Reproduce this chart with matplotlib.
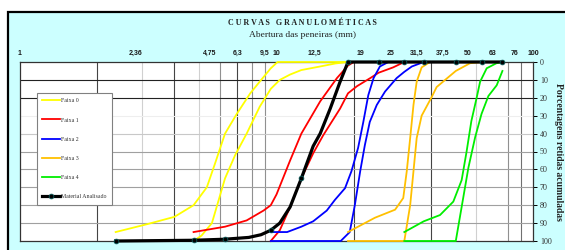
import matplotlib
matplotlib.use("Agg")
import matplotlib.pyplot as plt
from matplotlib.patches import Rectangle
from matplotlib.transforms import blended_transform_factory

# sieve openings shown on the top of the chart (mm)
sieve_labels = ["1", "2,36", "4,75", "6,3", "9,5", "10", "12,5", "19", "25", "31,5", "37,5", "50", "63", "76", "100"]
label_pos = [1, 2.81, 5.5, 7.07, 9.02, 10.0, 14.1, 21.2, 27.9, 35.3, 44.6, 55.8, 69.8, 85, 100]

# limit curves (% retained)
f0a_x = [2.36, 3.15, 4.0, 4.75, 5.35, 5.75, 6.3, 7.0, 7.9, 8.6, 9.5, 10.1, 12.5, 19, 25]
f0a_y = [95, 90.5, 86.5, 80, 70, 57, 40, 29, 17.5, 11, 3.5, 0, 0, 0, 0]
f0b_x = [4.75, 5.1, 5.6, 6.3, 6.9, 7.65, 8.6, 9.5, 10.3, 11.3, 12.5, 14.8, 17, 19, 25]
f0b_y = [100, 97, 90, 65, 52, 40, 25, 15, 10, 7, 4.5, 2.5, 0.8, 0, 0]

f1a_x = [4.75, 6.3, 7.65, 8.9, 9.5, 10.0, 11.3, 12.5, 14.8, 17.2, 19, 20, 25]
f1a_y = [95, 92, 88.5, 83, 80, 74, 55, 40, 22, 9, 2, 0, 0]
f1b_x = [9.5, 10.3, 11.3, 12.5, 13.9, 15.2, 17.7, 19, 20.6, 23.2, 25, 28.5, 31.5]
f1b_y = [100, 94, 81, 65, 51, 41, 26, 17.5, 13.5, 9, 6, 3, 0]

f2a_x = [9.5, 11.0, 12.5, 13.9, 15.7, 16.9, 18.5, 19.6, 20.8, 21.8, 22.8, 23.9, 25.3, 27.3, 31.5]
f2a_y = [95, 95, 92, 89, 83, 77, 70.5, 61, 48, 33.5, 18.5, 9, 2.5, 0, 0]
f2b_x = [9.5, 12.5, 17.8, 19.3, 20.2, 21.2, 22.1, 23.1, 24.6, 26.5, 29.4, 31.5, 33.7, 37.5]
f2b_y = [100, 100, 100, 95, 80, 61, 46.5, 33.5, 24, 16.5, 9, 5.5, 2.5, 0]

f3a_x = [19, 24.2, 29.0, 31.2, 32.2, 33.2, 34.2, 35.2, 36.8, 39.7, 50]
f3a_y = [95, 87, 82.5, 76, 61, 42.5, 24, 11, 3, 0, 0]
f3b_x = [19, 25, 31.5, 33.2, 34.2, 35.2, 36.8, 40.3, 42.1, 50, 56.8, 63]
f3b_y = [100, 100, 100, 80, 61, 42.5, 30, 19.5, 14, 5, 0.7, 0]

f4a_x = [31.5, 37.5, 43.4, 48.9, 52.7, 55.1, 57.5, 60.3, 62.2, 66, 72, 76]
f4a_y = [95, 89, 85.5, 78, 66, 50, 33, 20, 11, 3.5, 0.7, 0]
f4b_x = [31.5, 37.5, 50, 52.7, 56, 59.5, 63, 67, 72.2, 76]
f4b_y = [100, 100, 100, 81, 59, 42, 29, 19, 13, 5]

mat_x = [2.36, 4.75, 6.3, 7.8, 8.7, 9.5, 10.3, 11.3, 12.5, 13.9, 14.8, 16.2, 17.7, 19, 25, 31.5, 37.5, 50, 63, 76]
mat_y = [100, 99.6, 99, 98, 96.5, 94, 90, 81, 65, 47, 40, 26, 11, 0, 0, 0, 0, 0, 0, 0]
mat_marks = [0, 1, 2, 5, 8, 13, 14, 15, 16, 17, 18, 19]

series = [
    ("Faixa 0", "#FFFF00", f0a_x, f0a_y, f0b_x, f0b_y),
    ("Faixa 1", "#FF0000", f1a_x, f1a_y, f1b_x, f1b_y),
    ("Faixa 2", "#0000FF", f2a_x, f2a_y, f2b_x, f2b_y),
    ("Faixa 3", "#FFC000", f3a_x, f3a_y, f3b_x, f3b_y),
    ("Faixa 4", "#00EE00", f4a_x, f4a_y, f4b_x, f4b_y),
]

serif = ["Liberation Serif", "DejaVu Serif"]

fig = plt.figure(figsize=(5.65, 2.5), dpi=100, facecolor="white")
# cyan panel with black frame
fig.add_artist(Rectangle((7.5 / 565, -0.1), 1.0, 1 - 11.5 / 250 + 0.1, transform=fig.transFigure,
                         facecolor="#CCFFFF", edgecolor="black", lw=1.6, zorder=0))

ax = fig.add_axes([20 / 565, 1 - 241 / 250, 513 / 565, 179 / 250])
ax.set_facecolor("white")
ax.set_xscale("log")
ax.set_xlim(1, 100)
ax.set_ylim(100, 0)

# grid
vgrid = [2, 3, 4, 5, 6, 7, 8, 9, 20, 40, 60, 80, 90]
vcol = ["#444444", "#d0d0d0", "#444444", "#d0d0d0", "#909090", "#444444", "#909090", "#909090",
        "#444444", "#444444", "#d0d0d0", "#909090", "#707070"]
for v, c in zip(vgrid, vcol):
    ax.axvline(v, color=c, lw=0.8, zorder=1)
hgrid = [10, 20, 30, 40, 50, 60, 70, 80, 90]
hcol = ["#222222", "#222222", "#eeeeee", "#c8c8c8", "#a0a0a0", "#a0a0a0", "#a0a0a0", "#a0a0a0", "#a0a0a0"]
for h, c in zip(hgrid, hcol):
    ax.axhline(h, color=c, lw=0.8, zorder=1)

for name, col, xa, ya, xb, yb in series:
    ax.plot(xa, ya, color=col, lw=1.3, label=name, clip_on=False, zorder=3)
    ax.plot(xb, yb, color=col, lw=1.3, clip_on=False, zorder=3)

ax.plot(mat_x, mat_y, color="black", lw=2.3, marker="o", ms=3.4, mfc="black", mec="#0b5a5a",
        mew=0.6, markevery=mat_marks, label="Material Analisado", clip_on=False, zorder=4)

for s in ax.spines.values():
    s.set_color("#333333")
    s.set_linewidth(0.9)

ax.xaxis.set_major_locator(plt.NullLocator())
ax.xaxis.set_minor_locator(plt.NullLocator())
ax.yaxis.tick_right()
ax.set_yticks(range(0, 101, 10))
ax.tick_params(axis="y", direction="out", length=3, width=0.7, pad=2, labelsize=5.8, labelcolor="#333333")
for t in ax.get_yticklabels():
    t.set_family(serif)
ax.yaxis.set_label_position("right")
ax.set_ylabel("Porcentagens retidas acumuladas", rotation=270, labelpad=8, fontsize=6.9,
              fontweight="bold", family=serif, color="#222222")

trans = blended_transform_factory(ax.transData, ax.transAxes)
for lab, xp in zip(sieve_labels, label_pos):
    ax.text(xp, 1.05, lab, transform=trans, ha="center", va="center", fontsize=5.0,
            fontweight="bold", family="Liberation Sans", color="#1a1a1a")

fig.text(0.536, 0.909, "C U R V A S   G R A N U L O M É T I C A S", ha="center", va="center",
         fontsize=5.8, fontweight="bold", family=serif, color="#222222")
fig.text(0.536, 0.86, "Abertura das peneiras (mm)", ha="center", va="center",
         fontsize=6.8, family=serif, color="#222222")

leg = ax.legend(loc="upper left", bbox_to_anchor=(0.033, 0.827), borderaxespad=0,
                prop={"family": serif, "size": 4.2}, handlelength=3.0, handletextpad=0.3,
                labelspacing=2.42, borderpad=0.9, fancybox=False, framealpha=1, edgecolor="#808080")
leg.get_frame().set_linewidth(0.8)
for t in leg.get_texts():
    t.set_color("#333333")

fig.savefig("out.png", dpi=100, facecolor=fig.get_facecolor())
